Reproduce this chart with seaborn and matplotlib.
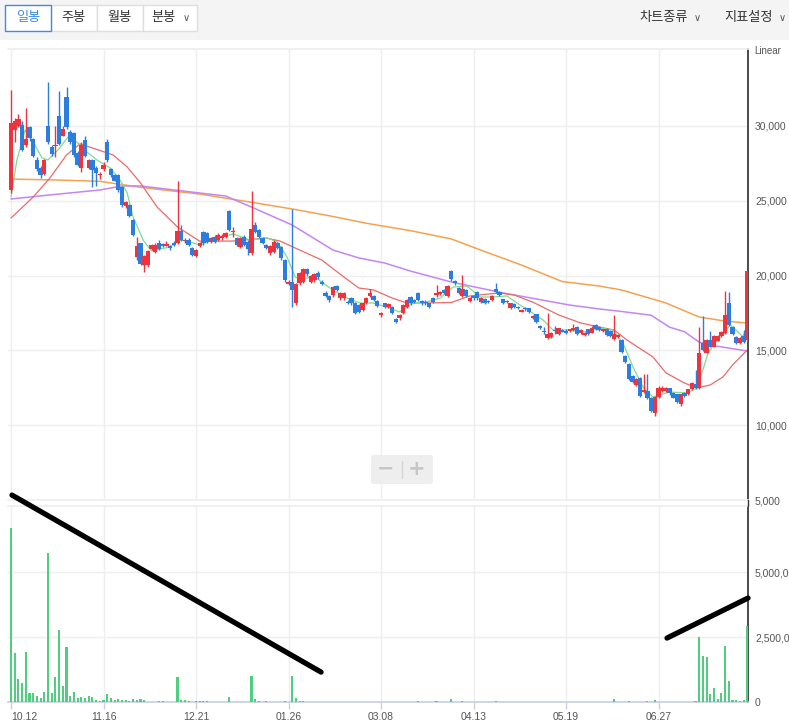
import numpy as np
import matplotlib
matplotlib.use("Agg")
import matplotlib.pyplot as plt
import seaborn as sns
from matplotlib.patches import Rectangle, FancyBboxPatch
from matplotlib.lines import Line2D

# 테마 설정 후 폰트 지정 (set_theme 이 font.family 를 덮어쓰므로 뒤에서 설정)
sns.set_theme(style="white")
plt.rcParams['font.family'] = ['Noto Sans CJK KR', 'DejaVu Sans']
plt.rcParams['axes.unicode_minus'] = False

# ---------------------------
# 데이터 (일봉 200개)
# ---------------------------
opens = [
    25700, 29700, 30000, 30050, 28700, 29900, 29100, 27700, 27200, 26800,
    30000, 28600, 28650, 30700, 29350, 31950, 29600, 29500, 28200, 27200,
    29050, 27200, 27700, 27200, 26750, 27150, 28900, 27100, 26700, 26700,
    25950, 24650, 24700, 23700, 21250, 22150, 20700, 20700, 21800, 21600,
    22150, 22100, 22000, 21950, 22200, 22150, 23000, 22300, 22400, 21850,
    21300, 22000, 22930, 22820, 22270, 22600, 22380, 22490, 22600, 24320,
    22940, 22490, 21930, 22600, 22270, 21490, 23380, 23040, 22490, 22040,
    21490, 21600, 22150, 21930, 21040, 19440, 19600, 18140, 19490, 19600,
    20420, 19600, 19700, 20190, 19600, 18860, 18640, 18700, 19300, 18480,
    18480, 18260, 18480, 18190, 18030, 17700, 18190, 18640, 18640, 18320,
    17360, 18140, 17920, 17920, 17080, 17140, 17480, 17920, 18590, 18370,
    18810, 18320, 18260, 18150, 18520, 18700, 18770, 19040, 18660, 20300,
    19640, 19190, 18660, 19040, 18320, 18660, 18920, 18260, 18410, 18320,
    18370, 19080, 18920, 18410, 18210, 17810, 18080, 17880, 17590, 17810,
    17810, 17140, 17410, 16630, 16300, 15810, 15870, 16360, 16070, 16360,
    16300, 16300, 16360, 16540, 16140, 16030, 16410, 16180, 16700, 16580,
    16300, 16410, 16300, 15740, 15870, 15690, 14620, 14070, 13290, 12690,
    13130, 12200, 12290, 11840, 10790, 11910, 12290, 12310, 12460, 12130,
    12060, 11390, 12130, 12060, 12400, 12750, 12460, 15470, 14850, 15690,
    15250, 15650, 15960, 16190, 18190, 16590, 15870, 15520, 15960, 15690,
]
closes = [
    30200, 30300, 30450, 28400, 29100, 29200, 28000, 27100, 26700, 27700,
    28900, 28100, 28700, 28800, 29800, 29900, 28950, 28050, 27400, 28750,
    28000, 27700, 27050, 26850, 26800, 27400, 27700, 26700, 26350, 25700,
    24700, 24900, 23950, 22700, 21950, 20800, 21300, 21650, 22050, 22050,
    21800, 21950, 22100, 21850, 22050, 23000, 22400, 22400, 22050, 21400,
    21700, 22150, 22150, 22270, 22490, 22270, 22710, 22650, 22830, 23040,
    22990, 22040, 22490, 22040, 21760, 23100, 22930, 22600, 22200, 21820,
    21980, 22270, 21820, 21150, 19700, 19600, 19030, 19440, 20150, 20420,
    20110, 19970, 20110, 19880, 19440, 18640, 18370, 19210, 19030, 18810,
    18810, 18190, 18140, 17480, 17590, 18140, 18480, 18810, 18370, 17970,
    17480, 17880, 18080, 17480, 16920, 17360, 18030, 18370, 18140, 18260,
    18370, 18150, 18140, 17880, 18260, 18860, 18920, 18810, 19300, 19750,
    19480, 18810, 19080, 18660, 18480, 18480, 18480, 18480, 18150, 18260,
    18660, 18920, 18700, 18190, 18320, 18150, 17920, 17810, 17700, 17740,
    17540, 17300, 16920, 16470, 16250, 16070, 16140, 16300, 16470, 16250,
    16190, 16410, 16520, 16100, 16360, 16140, 16100, 16520, 16410, 16360,
    16400, 16030, 15960, 16100, 16030, 14910, 14240, 13060, 12910, 13060,
    11970, 12350, 11840, 10950, 11910, 12510, 12510, 12510, 12130, 11840,
    11570, 12060, 11970, 12400, 12840, 12460, 14800, 15030, 15690, 15250,
    15960, 15960, 16250, 17370, 16700, 16100, 15470, 15810, 15580, 20310,
]
highs = [
    32400, 30500, 30800, 30300, 31200, 30000, 29200, 27900, 27300, 27800,
    32950, 28700, 30000, 32350, 30000, 32600, 29700, 29600, 28300, 28900,
    29300, 27800, 27800, 27300, 26900, 27600, 29100, 27200, 26800, 26800,
    26000, 25000, 24800, 23800, 22600, 22200, 21400, 21700, 22100, 22200,
    22400, 22200, 22300, 22050, 22300, 26300, 23400, 22500, 22500, 21900,
    21800, 22250, 23000, 22900, 22600, 22700, 22830, 22750, 22900, 24400,
    23270, 22600, 22550, 22700, 22350, 25650, 23600, 23100, 22550, 22100,
    22050, 22350, 22250, 22000, 21100, 19700, 24430, 19500, 20250, 20500,
    20500, 20050, 20200, 20300, 19700, 18950, 18700, 19300, 19400, 18900,
    18900, 18350, 18550, 18250, 18100, 18200, 18550, 19080, 18700, 18400,
    17550, 18200, 18150, 18000, 17150, 17450, 18100, 18450, 18650, 18450,
    18900, 18400, 18350, 18200, 18600, 19370, 19000, 19100, 19350, 20350,
    19700, 19250, 20040, 19100, 18550, 18700, 19000, 18550, 18500, 18400,
    18700, 19480, 19000, 18450, 18400, 18200, 18150, 17950, 17750, 17900,
    17850, 17350, 17450, 16700, 16550, 17480, 16200, 16600, 16500, 16450,
    16400, 16450, 16740, 16600, 16400, 16200, 16450, 16600, 16750, 16650,
    16450, 16500, 16350, 17360, 16100, 15750, 14700, 14150, 13350, 13150,
    13200, 13400, 13400, 11900, 11950, 12600, 12600, 12550, 12500, 12200,
    12100, 12100, 12200, 12450, 12900, 13690, 16580, 17300, 15750, 16320,
    16000, 16000, 16300, 18990, 18880, 16650, 15950, 15900, 16350, 20310,
]
lows = [
    25500, 28950, 29900, 28300, 28600, 29000, 27900, 27000, 26500, 26700,
    28800, 28000, 27950, 28700, 29300, 29800, 28800, 27900, 27300, 26900,
    27900, 27100, 25900, 26000, 26450, 27000, 27600, 26600, 26300, 25600,
    24600, 24500, 23900, 22650, 21050, 20700, 20250, 20600, 21700, 21500,
    21700, 21900, 21950, 21700, 22000, 22100, 22300, 22200, 22000, 21300,
    21250, 21900, 22050, 22200, 22200, 22200, 22300, 22400, 22500, 22950,
    22600, 21950, 21850, 21950, 21380, 21380, 22850, 22500, 22100, 21750,
    21400, 21500, 21750, 21050, 19600, 19350, 17920, 18050, 19400, 19500,
    20000, 19500, 19600, 19800, 19350, 18550, 18250, 18600, 18950, 18400,
    18400, 18100, 18050, 17400, 17500, 17600, 18100, 18550, 18300, 17900,
    17250, 17800, 17850, 17400, 16850, 17050, 17400, 17850, 18050, 18150,
    18300, 18050, 18050, 17800, 18200, 18600, 18700, 18750, 18600, 19650,
    19400, 18750, 18600, 18600, 18250, 18400, 18400, 18200, 18100, 18200,
    18300, 18850, 18650, 18100, 18150, 17750, 17850, 17750, 17550, 17650,
    17500, 17100, 16850, 16400, 16100, 15750, 15800, 16100, 16000, 16200,
    16100, 16250, 16300, 16050, 16100, 15980, 16050, 16150, 16350, 16300,
    16250, 15980, 15900, 15700, 15800, 14850, 14150, 13000, 12850, 12600,
    11900, 12150, 11780, 10900, 10600, 11850, 12250, 12250, 12050, 11800,
    11500, 11300, 11900, 12000, 12350, 12400, 12400, 14950, 14800, 15200,
    15200, 15600, 15900, 16100, 16650, 16050, 15400, 15450, 15500, 15600,
]
# 거래량 (백만 주)
volume_m = [
    6.68, 1.87, 0.87, 0.73, 1.91, 0.34, 0.34, 0.22, 0.15, 0.37,
    5.73, 0.34, 0.95, 2.77, 0.61, 2.10, 0.25, 0.37, 0.15, 0.19,
    0.15, 0.25, 0.19, 0.08, 0.04, 0.08, 0.29, 0.14, 0.08, 0.10,
    0.06, 0.09, 0.03, 0.10, 0.06, 0.10, 0.06, 0.01, 0.01, 0.01,
    0.04, 0.04, 0, 0, 0, 0.95, 0.06, 0.06, 0.04, 0.01,
    0.03, 0.03, 0.03, 0.03, 0, 0, 0, 0, 0, 0.19,
    0, 0, 0, 0, 0, 0.99, 0.10, 0.03, 0, 0.03,
    0, 0, 0, 0, 0.03, 0, 0.99, 0.14, 0.03, 0.03,
    0, 0, 0, 0, 0, 0, 0, 0, 0, 0,
    0, 0, 0, 0, 0, 0, 0, 0, 0, 0,
    0, 0, 0, 0, 0, 0, 0, 0, 0, 0,
    0.03, 0, 0, 0, 0, 0.03, 0, 0, 0, 0.10,
    0, 0, 0.03, 0, 0, 0, 0, 0, 0, 0,
    0, 0.03, 0, 0, 0, 0, 0, 0, 0, 0,
    0, 0, 0, 0, 0, 0, 0, 0, 0, 0,
    0, 0, 0, 0, 0, 0, 0, 0, 0, 0,
    0, 0, 0, 0.10, 0, 0, 0, 0.03, 0, 0,
    0, 0, 0.03, 0, 0.06, 0, 0, 0, 0, 0,
    0, 0, 0, 0, 0, 0.03, 2.51, 1.76, 1.72, 0.29,
    0.53, 0.10, 0.34, 2.16, 0.79, 0.06, 0.06, 0.03, 0.06, 2.93,
]

# 이동평균선 (그림에서 읽은 표본점: 봉 위치, 값)
ma5_x = [0, 1.6, 3.8, 6, 8.4, 10, 12.7, 15.4, 17.8, 20.5, 23.2, 26.8, 29.5, 31.4, 33,
         35.7, 38, 40.3, 43, 45.7, 48.4, 51, 55.7, 60, 64.6, 69.2, 72, 74.6, 76.8, 79,
         81.6, 84.3, 87, 90.8, 94.3, 97.8, 101.6, 105, 108.6, 112.4, 116, 119.5, 123.2,
         126.8, 130.3, 134, 137.6, 141, 143.8, 146.5, 150.3, 155.7, 159.2, 162.7, 165.4,
         168.1, 170.8, 173.5, 178, 182.7, 185.4, 187, 188.4, 190.3, 192.4, 194.3, 196.2,
         197.8, 199]
ma5_y = [25250, 27730, 29730, 28930, 27860, 27730, 28400, 29260, 28930, 28260, 27730,
         27190, 26390, 25520, 23920, 22380, 21640, 21780, 21910, 22380, 22250, 22040,
         22510, 22780, 22380, 22510, 22250, 21240, 19900, 19700, 20040, 19500, 19040,
         18500, 18170, 18170, 17900, 17570, 18170, 18240, 18500, 19240, 19300, 18570,
         18570, 18640, 18030, 17500, 17030, 16360, 16360, 16230, 16500, 16360, 15490,
         13890, 12550, 11880, 12220, 12150, 12490, 13690, 14820, 15490, 16030, 16700,
         16300, 15900, 16700]
ma20_x = [0, 6, 10.5, 15, 18.6, 22, 27.6, 31.4, 35, 39.5, 45, 51, 60, 69, 72.7, 78, 84,
          90, 94, 98, 103, 107, 112, 119, 124, 132, 136, 141, 148, 154, 159, 163, 166.5,
          173.5, 177, 182, 185.4, 189, 192.4, 195, 199]
ma20_y = [23850, 25250, 26520, 28060, 28800, 28530, 28060, 27260, 26190, 24580, 23250,
          22300, 22310, 22510, 22310, 21710, 21040, 19900, 19170, 19040, 18500, 18170,
          18170, 18200, 18640, 18840, 18700, 18230, 17370, 16830, 16560, 16360, 15690,
          14560, 13500, 12820, 12490, 12690, 13220, 14020, 15030]
ma60_x = [0, 10.5, 24, 30, 35, 51, 58, 65, 76, 87, 94, 101, 108, 119, 133, 151, 159, 165,
          173, 178, 182, 186, 189, 199]
ma60_y = [25120, 25390, 25720, 25990, 25990, 25520, 25320, 24580, 23380, 21710, 21180,
          20840, 20300, 19570, 18840, 18030, 17770, 17600, 17350, 16550, 16250, 15550,
          15350, 14960]
ma120_x = [0, 10.5, 24, 35, 51, 65, 76, 86, 96, 108, 119, 127, 138, 149, 159, 165, 177,
           186, 193, 199]
ma120_y = [26450, 26400, 26300, 25900, 25450, 24900, 24450, 24000, 23500, 23000, 22450,
           21700, 20700, 19600, 19300, 19040, 18170, 17230, 16960, 16830]

date_pos = [0, 25, 50, 75, 100, 125, 150, 175]
date_labels = ['10.12', '11.16', '12.21', '01.26', '03.08', '04.13', '05.19', '06.27']
price_ticks = [5000, 10000, 15000, 20000, 25000, 30000]
price_labels = ['5,000', '10,000', '15,000', '20,000', '25,000', '30,000']
vol_ticks = [0, 2500000, 5000000]
vol_labels = ['0', '2,500,000', '5,000,000']

# 사용자가 그린 추세선 (봉 위치, 거래량)
trend_lines = [((0.27, 7.96e6), (83.8, 1.15e6)),
               ((177.3, 2.46e6), (199.2, 4.0e6))]

RED = '#f0323c'
BLUE = '#2b7de0'
VOL_GREEN = '#4fce7e'
GRID = '#eeeeee'
NUM_FONT = 'Liberation Sans'

# ---------------------------
# 그림 배치 (픽셀 기준)
# ---------------------------
W, H = 789, 723
fig = plt.figure(figsize=(W / 100, H / 100), dpi=100)
fig.patch.set_facecolor('white')


def fx(x):
    return x / W


def fy(y):
    return 1 - y / H


X0, X1 = 8, 748
ax = fig.add_axes([fx(X0), fy(500), (X1 - X0) / W, (500 - 49) / H])
axv = fig.add_axes([fx(X0), fy(702), (X1 - X0) / W, (702 - 506) / H])

idx = np.arange(len(opens))
o = np.array(opens)
c = np.array(closes)
colors = np.where(c >= o, RED, BLUE)

# 이동평균선
sns.lineplot(x=ma120_x, y=ma120_y, ax=ax, color='#f5a24f', linewidth=1.1, zorder=2)
sns.lineplot(x=ma60_x, y=ma60_y, ax=ax, color='#c386f2', linewidth=1.1, zorder=2)
sns.lineplot(x=ma20_x, y=ma20_y, ax=ax, color='#ec6a6a', linewidth=0.9, zorder=2)
sns.lineplot(x=ma5_x, y=ma5_y, ax=ax, color='#7fdc8e', linewidth=0.9, zorder=2)

# 캔들
ax.vlines(idx, lows, highs, colors=colors, linewidth=1, zorder=3)
ax.bar(idx, np.maximum(np.abs(c - o), 70), bottom=np.minimum(o, c), width=1.15,
       color=colors, linewidth=0, zorder=4)

xlim = ((X0 - 11) / 3.7, (X1 - 11) / 3.7)
ax.set_xlim(*xlim)
ax.set_ylim(5000, 35145)
ax.yaxis.tick_right()
ax.set_yticks(price_ticks)
ax.set_yticklabels(price_labels, family=NUM_FONT)
ax.set_xticks(date_pos)
ax.set_xticklabels([])
ax.tick_params(axis='x', length=0)
ax.tick_params(axis='y', length=0, pad=5, labelsize=7.5, labelcolor='#555555')
ax.grid(True, color=GRID, linewidth=1)
ax.set_axisbelow(True)
ax.spines['left'].set_visible(False)
for side in ['top', 'bottom']:
    ax.spines[side].set_color(GRID)
ax.spines['right'].set_color('#333333')
ax.set_xlabel('')
ax.set_ylabel('')

# 거래량
axv.bar(idx, np.array(volume_m) * 1e6, width=0.55, color=VOL_GREEN, linewidth=0, zorder=3)
axv.set_xlim(*xlim)
axv.set_ylim(0, 7.54e6)
axv.yaxis.tick_right()
axv.set_yticks(vol_ticks)
axv.set_yticklabels(vol_labels, family=NUM_FONT)
axv.set_xticks(date_pos)
axv.set_xticklabels(date_labels, family=NUM_FONT)
axv.get_xticklabels()[0].set_ha('left')
axv.tick_params(axis='y', length=0, pad=5, labelsize=7.5, labelcolor='#555555')
axv.tick_params(axis='x', length=5, width=1, color='#c8d0e3', pad=2, labelsize=7.5,
                labelcolor='#555555', bottom=True)
axv.grid(True, color=GRID, linewidth=1)
axv.set_axisbelow(True)
axv.spines['left'].set_visible(False)
axv.spines['top'].set_color(GRID)
axv.spines['bottom'].set_color('#c8d0e3')
axv.spines['right'].set_color('#333333')

for (xa, ya), (xb, yb) in trend_lines:
    axv.plot([xa, xb], [ya, yb], color='black', linewidth=3.8,
             solid_capstyle='round', clip_on=False, zorder=6)

# 두 패널 사이 오른쪽 축선 연결
fig.add_artist(Line2D([fx(X1), fx(X1)], [fy(500), fy(506)], color='#333333', lw=1))

fig.text(fx(754), fy(51), 'Linear', fontsize=7, color='#555555', va='center',
         family=NUM_FONT)

# 확대/축소 버튼
fig.add_artist(FancyBboxPatch((fx(371), fy(484)), 62 / W, 29 / H,
                              boxstyle='round,pad=0,rounding_size=0.004',
                              transform=fig.transFigure, facecolor='#eeeeee',
                              edgecolor='none'))
fig.add_artist(Line2D([fx(402), fx(402)], [fy(478), fy(461)], color='#d6d6d6', lw=1))
fig.text(fx(386), fy(469), '−', fontsize=15, color='#c6c6c6', ha='center', va='center',
         family='DejaVu Sans', weight='bold')
fig.text(fx(417), fy(469), '+', fontsize=15, color='#c6c6c6', ha='center', va='center',
         family='DejaVu Sans', weight='bold')

# 상단 도구 막대
fig.add_artist(Rectangle((0, fy(40)), 1, 40 / H, transform=fig.transFigure,
                         facecolor='#f4f4f4', edgecolor='none'))
buttons = [(51, 97, '주봉'), (97, 143, '월봉'), (143, 197, '분봉')]
for xa, xb, label in buttons:
    fig.add_artist(Rectangle((fx(xa), fy(31)), (xb - xa) / W, 26 / H,
                             transform=fig.transFigure, facecolor='white',
                             edgecolor='#dedede', lw=1))
fig.add_artist(Rectangle((fx(5), fy(31)), 46 / W, 26 / H, transform=fig.transFigure,
                         facecolor='white', edgecolor='#3d8be8', lw=1))
fig.text(fx(28), fy(18), '일봉', fontsize=9.5, color='#3d8be8', ha='center', va='center')
fig.text(fx(74), fy(18), '주봉', fontsize=9.5, color='#333333', ha='center', va='center')
fig.text(fx(120), fy(18), '월봉', fontsize=9.5, color='#333333', ha='center', va='center')
fig.text(fx(164), fy(18), '분봉', fontsize=9.5, color='#333333', ha='center', va='center')
fig.text(fx(186), fy(18), '∨', fontsize=7, color='#555555', ha='center', va='center',
         family='DejaVu Sans')
fig.text(fx(664), fy(18), '차트종류', fontsize=9.5, color='#333333', ha='center', va='center')
fig.text(fx(697), fy(18), '∨', fontsize=7, color='#555555', ha='center', va='center',
         family='DejaVu Sans')
fig.text(fx(749), fy(18), '지표설정', fontsize=9.5, color='#333333', ha='center', va='center')
fig.text(fx(782), fy(18), '∨', fontsize=7, color='#555555', ha='center', va='center',
         family='DejaVu Sans')

fig.savefig('out.png', dpi=100)
